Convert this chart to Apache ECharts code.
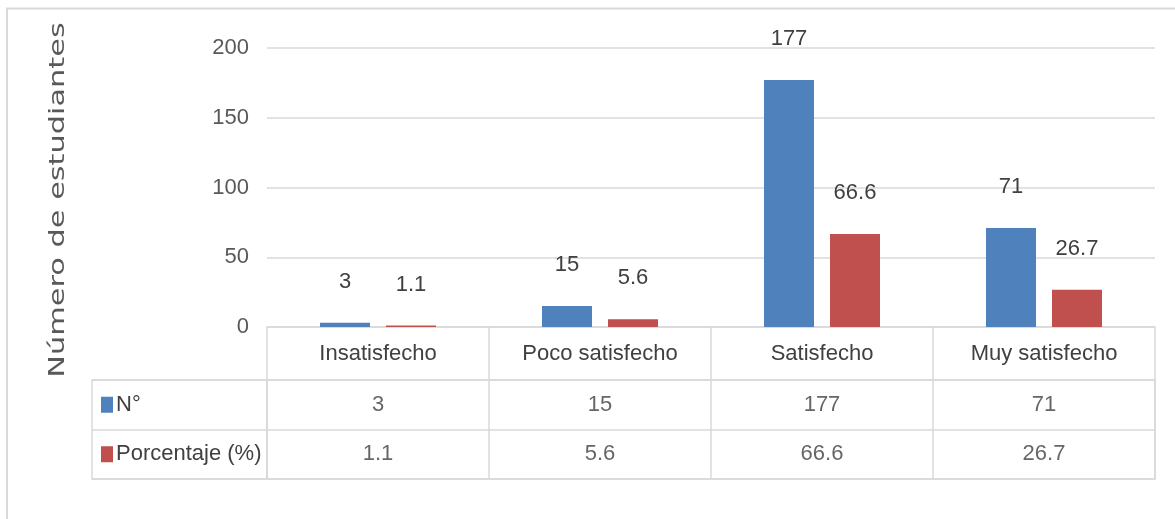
<!DOCTYPE html>
<html>
<head>
<meta charset="utf-8">
<script src="https://cdn.jsdelivr.net/npm/echarts@6/dist/echarts.min.js"></script>
<style>html,body{margin:0;padding:0;background:#fff}#c{width:1175px;height:519px}</style>
</head>
<body>
<div id="c"></div>
<script>
var categories = ['Insatisfecho', 'Poco satisfecho', 'Satisfecho', 'Muy satisfecho'];
var seriesNames = ['N°', 'Porcentaje (%)'];
var nValues = [3, 15, 177, 71];
var pctValues = [1.1, 5.6, 66.6, 26.7];
var yTitle = 'Número de estudiantes';
var colors = ['#4f81bd', '#c0504d'];

var FONT = '"Liberation Sans Narrow", "Liberation Sans", sans-serif';
var FS = 22;
var GRID_LINE = '#d9d9d9';

var tableData = [];
categories.forEach(function (c, i) {
  tableData.push([i, 0, nValues[i]]);
  tableData.push([i, 1, pctValues[i]]);
});

var chart = echarts.init(document.getElementById('c'));
chart.setOption({
  animation: false,
  backgroundColor: '#fff',
  grid: [
    { left: 267, right: 20, top: 48, bottom: 192 },
    { left: 267, right: 20, top: 380, height: 99, show: true, borderColor: GRID_LINE, borderWidth: 1.5 },
    { left: 92, width: 175, top: 380, height: 99, show: true, borderColor: GRID_LINE, borderWidth: 1.5 }
  ],
  xAxis: [
    {
      type: 'category', gridIndex: 0, data: categories,
      axisLine: { lineStyle: { color: GRID_LINE, width: 1.5 } },
      axisTick: { show: true, length: 53, lineStyle: { color: GRID_LINE, width: 1.5 } },
      axisLabel: { interval: 0, color: '#404040', fontFamily: FONT, fontSize: FS, margin: 16 }
    },
    {
      type: 'category', gridIndex: 1, data: categories,
      axisLine: { show: false }, axisTick: { show: false }, axisLabel: { show: false },
      splitLine: { show: true, interval: 0, lineStyle: { color: GRID_LINE, width: 1.5 } }
    },
    { type: 'value', gridIndex: 2, show: false }
  ],
  yAxis: [
    {
      type: 'value', gridIndex: 0, min: 0, max: 200, interval: 50,
      axisLine: { show: false }, axisTick: { show: false },
      splitLine: { lineStyle: { color: GRID_LINE, width: 1.5 } },
      axisLabel: { color: '#595959', fontFamily: FONT, fontSize: FS, margin: 18 }
    },
    {
      type: 'category', gridIndex: 1, data: seriesNames, inverse: true,
      axisLine: { show: false }, axisTick: { show: false }, axisLabel: { show: false },
      splitLine: { show: true, lineStyle: { color: GRID_LINE, width: 1.5 } }
    },
    {
      type: 'category', gridIndex: 2, data: seriesNames, inverse: true,
      axisLine: { show: false }, axisTick: { show: false },
      splitLine: { show: true, lineStyle: { color: GRID_LINE, width: 1.5 } },
      axisLabel: {
        inside: true, align: 'left', margin: 9,
        formatter: function (v, idx) { return '{s' + idx + '| }{t|' + v + '}'; },
        rich: {
          s0: { width: 12, height: 16, backgroundColor: colors[0] },
          s1: { width: 12, height: 16, backgroundColor: colors[1] },
          t: { color: '#404040', fontFamily: FONT, fontSize: FS, padding: [0, 0, 0, 3] }
        }
      }
    }
  ],
  graphic: [
    {
      type: 'polyline', silent: true, z: -1,
      shape: { points: [[7, 519], [7, 8.5], [1175, 8.5]] },
      style: { stroke: GRID_LINE, lineWidth: 2, fill: null }
    },
    {
      type: 'text', x: 58, y: 200, rotation: Math.PI / 2, scaleX: 1.38,
      style: { text: yTitle, fill: '#595959', font: '22px "DejaVu Sans", sans-serif', align: 'center', verticalAlign: 'middle' }
    }
  ],
  series: [
    {
      name: seriesNames[0], type: 'bar', xAxisIndex: 0, yAxisIndex: 0, data: nValues,
      barWidth: 50, barGap: '32%', itemStyle: { color: colors[0] },
      label: { show: true, position: 'top', distance: 30, color: '#404040', fontFamily: FONT, fontSize: FS }
    },
    {
      name: seriesNames[1], type: 'bar', xAxisIndex: 0, yAxisIndex: 0, data: pctValues,
      barWidth: 50, barGap: '32%', itemStyle: { color: colors[1] },
      label: { show: true, position: 'top', distance: 30, color: '#404040', fontFamily: FONT, fontSize: FS }
    },
    {
      type: 'scatter', xAxisIndex: 1, yAxisIndex: 1, data: tableData,
      symbolSize: 1, itemStyle: { color: 'rgba(0,0,0,0)' }, silent: true,
      label: {
        show: true, position: 'inside', color: '#404040', fontFamily: FONT, fontSize: FS,
        formatter: function (p) { return String(p.value[2]); }
      }
    }
  ]
});
</script>
</body>
</html>
